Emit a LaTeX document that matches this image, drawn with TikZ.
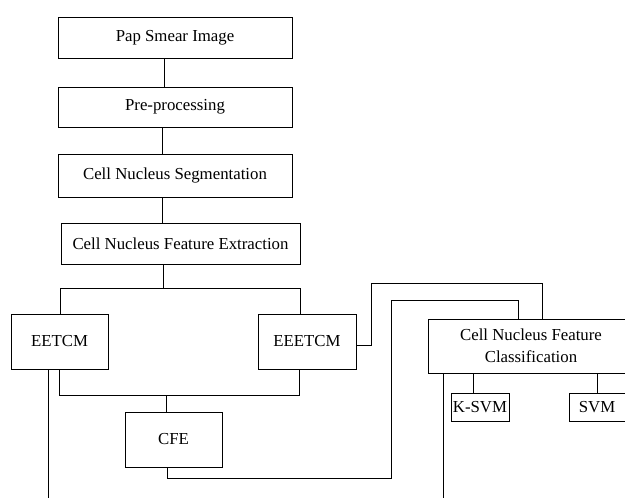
\documentclass[tikz,border=0pt]{standalone}
\usepackage{fontspec}
\setmainfont{Liberation Serif}
\usepackage{tikz}
\usetikzlibrary{positioning}

\begin{document}
\begin{tikzpicture}[x=1pt, y=-1pt, line width=0.95pt,
    every node/.style={font=\fontsize{16.8}{21.5}\selectfont},
    box/.style={rectangle, draw, align=center, inner sep=0pt}]
            \clip (0,0) rectangle (625,498);
            \node[box, minimum width=234, minimum height=41] at (175, 37.5)   (pap) {Pap Smear Image};
            \node[box, minimum width=234, minimum height=40] at (175, 107)    (pre) {Pre-processing};
            \node[box, minimum width=234, minimum height=43] at (175, 175.5)  (seg) {Cell Nucleus Segmentation};
            \node[box, minimum width=239, minimum height=41] at (180.5, 243.5) (fex) {Cell Nucleus Feature Extraction};
            \node[box, minimum width=97, minimum height=55] at (59.5, 341.5)  (eetcm) {EETCM};
            \node[box, minimum width=98, minimum height=55] at (307, 341.5)   (eeetcm) {EEETCM};
            \node[box, minimum width=97, minimum height=55] at (173.5, 439.5) (cfe) {CFE};
            \node[box, minimum width=206, minimum height=54] at (531, 346)    (cnfc) {Cell Nucleus Feature\\Classification};
            \node[box, minimum width=58, minimum height=28] at (480, 407)     (ksvm) {K-SVM};
            \node[box, minimum width=56, minimum height=28] at (597, 407.5)   (svm) {SVM};

            \coordinate (eetcmout) at (48, 500);
            \coordinate (cnfcout) at (443, 500);
            \coordinate (cfebend) at (391, 300);

            \draw ([xshift=-11]pap.south) -- ([xshift=-11]pre.north);
            \draw ([xshift=-13]pre.south) -- ([xshift=-13]seg.north);
            \draw ([xshift=-13]seg.south) -- ([xshift=-18.5]fex.north);
            \draw ([xshift=-17.5]fex.south) -- ++(0,25);
            \draw ([xshift=0.5]eetcm.north) -- ++(0,-25) -| ([xshift=-7]eeetcm.north);
            \draw (eetcm.south) -- ++(0,26) -| ([xshift=-8]eeetcm.south);
            \draw ([xshift=-7.5]cfe.north) -- ++(0,-17);
            \draw ([xshift=-6.5]cfe.south) -- ++(0,11) -| (cfebend) -| ([xshift=-13]cnfc.north);
            \draw ([yshift=-3.5]eeetcm.east) -- ++(15,0) -- ++(0,-62) -| ([xshift=11]cnfc.north);
            \draw ([xshift=-11.5]eetcm.south) -- (eetcmout);
            \draw ([xshift=-88]cnfc.south) -- (cnfcout);
            \draw ([xshift=-7]ksvm.north) -- ++(0,-20);
            \draw (svm.north) -- (svm.north |- cnfc.south);
        \end{tikzpicture}
\end{document}
